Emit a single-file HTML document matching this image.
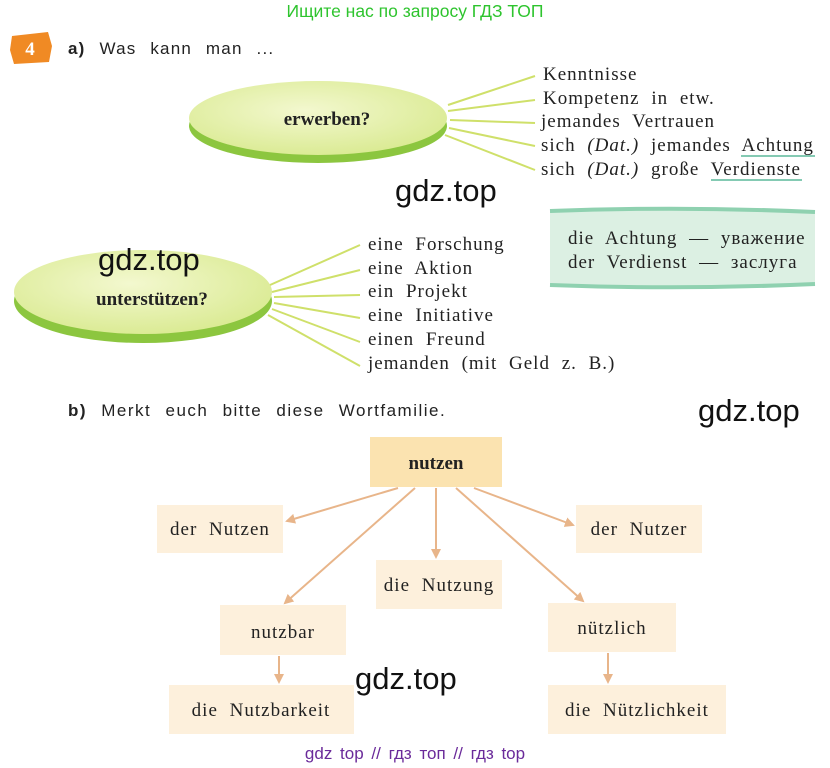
<!DOCTYPE html>
<html><head><meta charset="utf-8"><style>
body{margin:0;background:#fff;}
svg{display:block}
.s{font-family:"Liberation Serif",serif;font-size:19px;fill:#222;letter-spacing:1px;word-spacing:6px}
.g{font-family:"Liberation Sans",sans-serif;font-size:31px;fill:#111}
</style></head><body>
<svg width="830" height="768" viewBox="0 0 830 768" xmlns="http://www.w3.org/2000/svg">
<defs>
<radialGradient id="eg" cx="0.45" cy="0.4" r="0.6"><stop offset="0" stop-color="#f3f8cf"/><stop offset="1" stop-color="#dbeb95"/></radialGradient>
<marker id="ar" markerWidth="10" markerHeight="10" refX="8" refY="5" orient="auto" markerUnits="userSpaceOnUse"><path d="M0,0 L10,5 L0,10 z" fill="#e8b58a"/></marker>
</defs>
<text x="415" y="17" text-anchor="middle" font-family="Liberation Sans,sans-serif" font-size="17.5" fill="#2ec42e">Ищите нас по запросу ГДЗ ТОП</text>
<path d="M12,36 L48,32 L52,46 L49,62 L14,64 L10,50 z" fill="#f08a24"/>
<text x="30" y="55" text-anchor="middle" font-family="Liberation Serif,serif" font-weight="bold" font-size="19" fill="#fff">4</text>
<text x="68" y="54" font-family="Liberation Sans,sans-serif" font-size="17" fill="#222" letter-spacing="1.2" word-spacing="8"><tspan font-weight="bold">a)</tspan> Was kann man ...</text>

<ellipse cx="318" cy="126" rx="129" ry="37" fill="#8cc63f"/>
<ellipse cx="318" cy="118" rx="129" ry="37" fill="url(#eg)"/>
<text x="327" y="125" text-anchor="middle" font-family="Liberation Serif,serif" font-weight="bold" font-size="19" fill="#222">erwerben?</text>
<g stroke="#cfe06a" stroke-width="2">
<line x1="448" y1="105" x2="535" y2="76"/><line x1="448" y1="111" x2="535" y2="100"/><line x1="450" y1="120" x2="535" y2="123"/><line x1="449" y1="128" x2="535" y2="146"/><line x1="445" y1="135" x2="535" y2="170"/>
</g>
<text class="s" x="543" y="80">Kenntnisse</text>
<text class="s" x="543" y="104">Kompetenz in etw.</text>
<text class="s" x="541" y="127">jemandes Vertrauen</text>
<text class="s" x="541" y="151">sich <tspan font-style="italic">(Dat.)</tspan> jemandes Achtung</text>
<text class="s" x="541" y="175">sich <tspan font-style="italic">(Dat.)</tspan> große Verdienste</text>
<line x1="741" y1="156" x2="815" y2="156" stroke="#5bb89a" stroke-width="1.5"/>
<line x1="711" y1="180" x2="802" y2="180" stroke="#5bb89a" stroke-width="1.5"/>
<text class="g" x="395" y="201">gdz.top</text>

<rect x="550" y="210" width="265" height="76" fill="#dcf0e3"/>
<path d="M550,211 Q680,206 815,212" stroke="#8fd1b0" stroke-width="4" fill="none"/>
<path d="M550,285 Q680,290 815,284" stroke="#8fd1b0" stroke-width="4" fill="none"/>
<text class="s" x="568" y="244" word-spacing="3">die Achtung — уважение</text>
<text class="s" x="568" y="268" word-spacing="3">der Verdienst — заслуга</text>

<ellipse cx="143" cy="301" rx="129" ry="42" fill="#8cc63f"/>
<ellipse cx="143" cy="292" rx="129" ry="42" fill="url(#eg)"/>
<text x="152" y="305" text-anchor="middle" font-family="Liberation Serif,serif" font-weight="bold" font-size="19" fill="#222">unterstützen?</text>
<text class="g" x="98" y="270">gdz.top</text>
<g stroke="#cfe06a" stroke-width="2">
<line x1="270" y1="285" x2="360" y2="245"/><line x1="272" y1="292" x2="360" y2="270"/><line x1="274" y1="297" x2="360" y2="295"/><line x1="274" y1="303" x2="360" y2="318"/><line x1="272" y1="309" x2="360" y2="342"/><line x1="268" y1="315" x2="360" y2="366"/>
</g>
<text class="s" x="368" y="250">eine Forschung</text>
<text class="s" x="368" y="274">eine Aktion</text>
<text class="s" x="368" y="297">ein Projekt</text>
<text class="s" x="368" y="321">eine Initiative</text>
<text class="s" x="368" y="345">einen Freund</text>
<text class="s" x="368" y="369" word-spacing="4">jemanden (mit Geld z. B.)</text>

<text x="68" y="416" font-family="Liberation Sans,sans-serif" font-size="17" fill="#222" letter-spacing="1.5" word-spacing="8"><tspan font-weight="bold">b)</tspan> Merkt euch bitte diese Wortfamilie.</text>
<text class="g" x="698" y="421">gdz.top</text>

<g fill="#fdf0dc">
<rect x="370" y="437" width="132" height="50" fill="#fbe3b0"/>
<rect x="157" y="505" width="126" height="48"/>
<rect x="376" y="560" width="126" height="49"/>
<rect x="576" y="505" width="126" height="48"/>
<rect x="220" y="605" width="126" height="50"/>
<rect x="548" y="603" width="128" height="49"/>
<rect x="169" y="685" width="185" height="49"/>
<rect x="548" y="685" width="178" height="49"/>
</g>
<g stroke="#e8b58a" stroke-width="2" marker-end="url(#ar)">
<line x1="398" y1="488" x2="287" y2="521"/>
<line x1="436" y1="488" x2="436" y2="557"/>
<line x1="474" y1="488" x2="573" y2="525"/>
<line x1="415" y1="488" x2="285" y2="603"/>
<line x1="456" y1="488" x2="583" y2="601"/>
<line x1="279" y1="656" x2="279" y2="682"/>
<line x1="608" y1="653" x2="608" y2="682"/>
</g>
<text x="436" y="469" text-anchor="middle" font-family="Liberation Serif,serif" font-weight="bold" font-size="19" fill="#222">nutzen</text>
<text class="s" x="220" y="535" text-anchor="middle">der Nutzen</text>
<text class="s" x="439" y="591" text-anchor="middle">die Nutzung</text>
<text class="s" x="639" y="535" text-anchor="middle">der Nutzer</text>
<text class="s" x="283" y="638" text-anchor="middle">nutzbar</text>
<text class="s" x="612" y="634" text-anchor="middle">nützlich</text>
<text class="s" x="261" y="716" text-anchor="middle">die Nutzbarkeit</text>
<text class="s" x="637" y="716" text-anchor="middle">die Nützlichkeit</text>
<text class="g" x="355" y="689">gdz.top</text>
<text x="415" y="759" text-anchor="middle" font-family="Liberation Sans,sans-serif" font-size="17" fill="#6a2a9a" word-spacing="3">gdz top // гдз топ // гдз top</text>
</svg>
</body></html>
